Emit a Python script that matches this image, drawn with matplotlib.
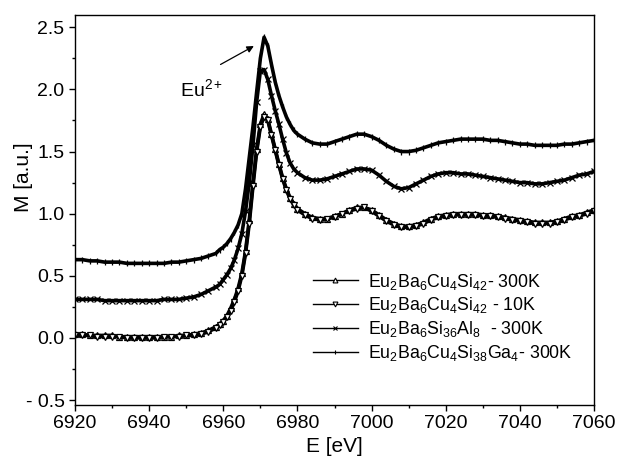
import matplotlib
matplotlib.use("Agg")
import matplotlib.pyplot as plt
from matplotlib.lines import Line2D
from matplotlib.ticker import MultipleLocator

plt.rcParams['font.family'] = ['Liberation Sans', 'DejaVu Sans']
plt.rcParams['mathtext.fontset'] = 'custom'
plt.rcParams['mathtext.rm'] = 'Liberation Sans'
plt.rcParams['mathtext.it'] = 'Liberation Sans'
plt.rcParams['mathtext.default'] = 'regular'

# photon energy grid (eV)
energy = [6920, 6922, 6924, 6926, 6928, 6930, 6932, 6934, 6936, 6938,
          6940, 6942, 6944, 6946, 6948, 6950, 6952, 6954, 6956,
          6958, 6959, 6960, 6961, 6962, 6963, 6964, 6965, 6966, 6967,
          6968, 6969, 6970, 6971, 6972, 6973, 6974, 6975, 6976, 6977,
          6978, 6979, 6980,
          6982, 6984, 6986, 6988, 6990, 6992, 6994, 6996, 6998, 7000,
          7002, 7004, 7006, 7008, 7010, 7012, 7014, 7016, 7018, 7020,
          7022, 7024, 7026, 7028, 7030, 7032, 7034, 7036, 7038, 7040,
          7042, 7044, 7046, 7048, 7050, 7052, 7054, 7056, 7058, 7060]

# Eu2Ba6Cu4Si42, 300 K
m_cu4_300 = [0.03, 0.03, 0.02, 0.02, 0.02, 0.02, 0.01, 0.01, 0.01, 0.01,
             0.01, 0.01, 0.01, 0.01, 0.02, 0.02, 0.03, 0.04, 0.06,
             0.09, 0.11, 0.14, 0.18, 0.24, 0.31, 0.40, 0.52, 0.70, 0.95,
             1.25, 1.52, 1.72, 1.80, 1.76, 1.64, 1.52, 1.40, 1.29, 1.20,
             1.13, 1.08, 1.04,
             1.00, 0.97, 0.96, 0.96, 0.98, 1.00, 1.03, 1.05, 1.05, 1.03,
             0.99, 0.95, 0.92, 0.90, 0.90, 0.91, 0.93, 0.96, 0.98, 0.99,
             1.00, 1.00, 1.00, 1.00, 0.99, 0.99, 0.98, 0.97, 0.96, 0.95,
             0.94, 0.93, 0.93, 0.93, 0.94, 0.96, 0.98, 0.99, 1.01, 1.03]

# Eu2Ba6Cu4Si42, 10 K
m_cu4_10 = [0.02, 0.02, 0.02, 0.01, 0.01, 0.01, 0.01, 0.00, 0.00, 0.00,
            0.00, 0.00, 0.01, 0.01, 0.01, 0.02, 0.02, 0.03, 0.05,
            0.08, 0.10, 0.13, 0.17, 0.22, 0.29, 0.38, 0.50, 0.68, 0.92,
            1.22, 1.50, 1.70, 1.78, 1.75, 1.63, 1.51, 1.39, 1.28, 1.19,
            1.12, 1.07, 1.03,
            0.99, 0.96, 0.95, 0.96, 0.97, 1.00, 1.02, 1.04, 1.05, 1.02,
            0.98, 0.94, 0.91, 0.89, 0.89, 0.90, 0.92, 0.95, 0.97, 0.98,
            0.99, 0.99, 0.99, 0.99, 0.98, 0.98, 0.97, 0.96, 0.95, 0.94,
            0.93, 0.92, 0.92, 0.92, 0.93, 0.95, 0.97, 0.98, 1.00, 1.02]

# Eu2Ba6Si36Al8, 300 K
m_al8_300 = [0.31, 0.31, 0.31, 0.31, 0.30, 0.30, 0.30, 0.30, 0.30, 0.30,
             0.30, 0.30, 0.31, 0.31, 0.31, 0.32, 0.33, 0.35, 0.38,
             0.41, 0.43, 0.47, 0.51, 0.56, 0.63, 0.72, 0.84, 1.02, 1.25,
             1.55, 1.90, 2.15, 2.16, 2.08, 1.95, 1.83, 1.72, 1.60, 1.49,
             1.41, 1.36, 1.33,
             1.29, 1.27, 1.27, 1.28, 1.30, 1.32, 1.34, 1.36, 1.36, 1.35,
             1.31, 1.26, 1.22, 1.20, 1.21, 1.24, 1.27, 1.30, 1.32, 1.33,
             1.33, 1.32, 1.32, 1.31, 1.30, 1.29, 1.28, 1.27, 1.26, 1.25,
             1.25, 1.24, 1.24, 1.25, 1.26, 1.27, 1.29, 1.31, 1.32, 1.34]

# Eu2Ba6Cu4Si38Ga4, 300 K
m_ga4_300 = [0.63, 0.63, 0.62, 0.62, 0.61, 0.61, 0.61, 0.60, 0.60, 0.60,
             0.60, 0.60, 0.60, 0.61, 0.61, 0.62, 0.63, 0.64, 0.66,
             0.68, 0.71, 0.73, 0.76, 0.80, 0.85, 0.91, 1.00, 1.20, 1.45,
             1.70, 1.98, 2.25, 2.42, 2.35, 2.20, 2.06, 1.95, 1.86, 1.78,
             1.72, 1.67, 1.64,
             1.60, 1.57, 1.56, 1.56, 1.58, 1.60, 1.62, 1.64, 1.64, 1.62,
             1.59, 1.55, 1.52, 1.50, 1.50, 1.51, 1.53, 1.55, 1.57, 1.58,
             1.59, 1.60, 1.60, 1.60, 1.60, 1.59, 1.59, 1.58, 1.57, 1.56,
             1.56, 1.55, 1.55, 1.55, 1.55, 1.56, 1.56, 1.57, 1.58, 1.59]

labels = [r'Eu$_2$Ba$_6$Cu$_4$Si$_{42}$- 300K',
          r'Eu$_2$Ba$_6$Cu$_4$Si$_{42}$ - 10K',
          r'Eu$_2$Ba$_6$Si$_{36}$Al$_8$  - 300K',
          r'Eu$_2$Ba$_6$Cu$_4$Si$_{38}$Ga$_4$- 300K']
markers = ['^', 'v', 'x', '|']
series = [m_cu4_300, m_cu4_10, m_al8_300, m_ga4_300]

fig = plt.figure(figsize=(6.22, 4.65), dpi=100)
ax = fig.add_axes([0.1206, 0.129, 0.8344, 0.839])

for m, mk in zip(series, markers):
    ax.plot(energy, m, color='black', lw=2.6, marker=mk, ms=5,
            mfc='white' if mk in '^v' else 'black', mec='black', mew=0.9)

ax.set_xlim(6920, 7060)
ax.set_ylim(-0.54, 2.6)
ax.xaxis.set_major_locator(MultipleLocator(20))
ax.xaxis.set_minor_locator(MultipleLocator(10))
ax.yaxis.set_minor_locator(MultipleLocator(0.25))
ax.set_yticks([-0.5, 0.0, 0.5, 1.0, 1.5, 2.0, 2.5])
ax.set_yticklabels(['- 0.5', '0.0', '0.5', '1.0', '1.5', '2.0', '2.5'])
ax.tick_params(which='major', direction='out', length=4, width=1, labelsize=14)
ax.tick_params(which='minor', direction='out', length=2.5, width=1)
for sp in ax.spines.values():
    sp.set_linewidth(1.0)

ax.set_xlabel('E [eV]', fontsize=15, labelpad=3)
ax.set_ylabel('M [a.u.]', fontsize=15)
ax.yaxis.set_label_coords(-0.081, 0.585)

# Eu2+ white line marker
ax.annotate('', xy=(6968.9, 2.36), xytext=(6958.6, 2.19),
            arrowprops=dict(arrowstyle='-|>', color='black', lw=0.9,
                            mutation_scale=10))
ax.text(6948.3, 2.0, r'Eu$^{2+}$', fontsize=14, va='center', ha='left')

handles = [Line2D([], [], color='black', lw=1.0, marker=mk, ms=3.5,
                  mfc='white' if mk in '^v' else 'black', mec='black', mew=0.8)
           for mk in markers]
ax.legend(handles, labels, loc='upper left', bbox_to_anchor=(0.459, 0.342),
          frameon=False, fontsize=12.8, handlelength=2.5, handletextpad=0.6,
          labelspacing=0.22, borderpad=0, borderaxespad=0)

fig.savefig('out.png', dpi=100)
